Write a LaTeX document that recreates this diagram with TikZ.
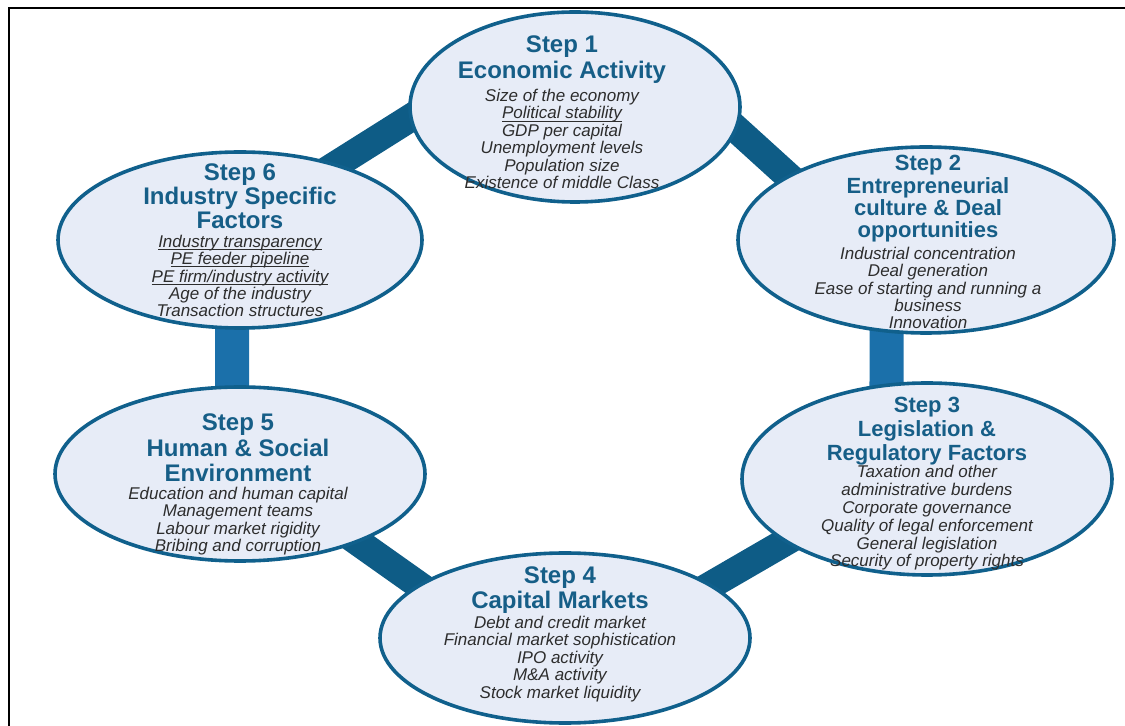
\documentclass[tikz,border=0pt]{standalone}
\usepackage{fontspec}
\setmainfont{Liberation Sans}
\usepackage{xcolor}
\usetikzlibrary{shapes.geometric,backgrounds}

\definecolor{ringblue}{RGB}{16,96,140}
\definecolor{ringfill}{RGB}{231,236,247}
\definecolor{darkband}{RGB}{14,92,134}
\definecolor{lightband}{RGB}{27,112,170}
\definecolor{headblue}{RGB}{22,94,135}
\definecolor{itemgray}{RGB}{45,45,45}

% underline close to the baseline, without extra depth
\newsavebox\ulbox
\newcommand{\ulitem}[1]{\sbox\ulbox{#1}\rlap{\rule[-1.3pt]{\wd\ulbox}{0.5pt}}\usebox\ulbox}

\tikzset{
	stepring/.style={ellipse, draw=ringblue, line width=1.8pt, fill=ringfill, inner sep=0pt},
	headtext/.style 2 args={align=center, inner sep=0pt, text=headblue, font=\fontsize{#1}{#2}\selectfont\bfseries},
	itemtext/.style={align=center, inner sep=0pt, text=itemgray, font=\fontsize{8.5}{#1}\selectfont\itshape},
	itemtext/.default=8.7,
	darkbar/.style={draw=darkband, line width=14pt, shorten <=-8pt, shorten >=-8pt},
	lightbar/.style={draw=lightband, line width=17pt, shorten <=-8pt, shorten >=-8pt}
}

\begin{document}
\begin{tikzpicture}[x=0.5pt, y=-0.5pt]

			\useasboundingbox (0,0) rectangle (1125,726);

			% The six ellipses
			\node[stepring, minimum width=165pt, minimum height=95pt] (s1) at (575,107) {};
			\node[stepring, minimum width=188pt, minimum height=93pt] (s2) at (926,240) {};
			\node[stepring, minimum width=185pt, minimum height=96pt] (s3) at (927,479) {};
			\node[stepring, minimum width=185pt, minimum height=85pt] (s4) at (565,638) {};
			\node[stepring, minimum width=185pt, minimum height=87pt] (s5) at (240,474) {};
			\node[stepring, minimum width=182pt, minimum height=88pt] (s6) at (240,240) {};

			% Step 1
			\node[headtext={12}{13}] (h1) at (562,60) {Step 1\\ Economic Activity};
			\node[itemtext] (i1) at (562,139) {Size of the economy\\ \ulitem{Political stability}\\ GDP per capital\\
				Unemployment levels\\ Population size\\ Existence of middle Class};

			% Step 2
			\node[headtext={11}{11.2}] (h2) at (928,199) {Step 2\\ Entrepreneurial\\ culture \& Deal\\ opportunities};
			\node[itemtext] (i2) at (928,288) {Industrial concentration\\ Deal generation\\ Ease of starting and running a\\
				business\\ Innovation};

			% Step 3
			\node[headtext={11}{12}] (h3) at (927,431) {Step 3\\ Legislation \&\\ Regulatory Factors};
			\node[itemtext=8.9] (i3) at (927,518) {Taxation and other\\ administrative burdens\\ Corporate governance\\
				Quality of legal enforcement\\ General legislation\\ Security of property rights};

			% Step 4
			\node[headtext={12}{12.5}] (h4) at (560,590) {Step 4\\ Capital Markets};
			\node[itemtext] (i4) at (560,659) {Debt and credit market\\ Financial market sophistication\\ IPO activity\\
				M\&A activity\\ Stock market liquidity};

			% Step 5
			\node[headtext={12}{12.75}] (h5) at (238,448) {Step 5\\ Human \& Social\\ Environment};
			\node[itemtext] (i5) at (238,521) {Education and human capital\\ Management teams\\ Labour market rigidity\\
				Bribing and corruption};

			% Step 6
			\node[headtext={12}{12}] (h6) at (240,196) {Step 6\\ Industry Specific\\ Factors};
			\node[itemtext] (i6) at (240,276) {\ulitem{Industry transparency}\\ \ulitem{PE feeder pipeline}\\
				\ulitem{PE firm/industry activity}\\ Age of the industry\\ Transaction structures};

			\begin{scope}[on background layer]
				% The ring of bars
				\draw[darkbar] (s6.38) -- (s1.184);
				\draw[darkbar] (s1.352) -- (s2.155);
				\draw[lightbar] (s2.247) -- (s3.113);
				\draw[darkbar] (s3.204) -- (s4.20);
				\draw[darkbar] (s4.160) -- (s5.330);
				\draw[lightbar] (s5.95) -- (s6.265);

				% The frame
				\draw[black, line width=1.2pt] (9,726) -- (9,8) -- (1125,8);
			\end{scope}

		\end{tikzpicture}
\end{document}
